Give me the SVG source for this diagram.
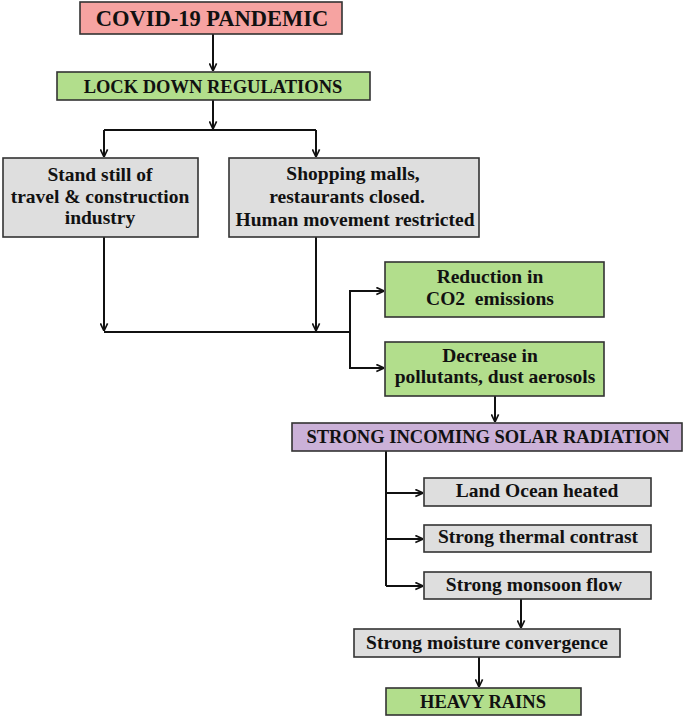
<svg xmlns="http://www.w3.org/2000/svg" width="685" height="719" viewBox="0 0 685 719">
<style>
.box{stroke:#333;stroke-width:1.6}
.pink{fill:#f6a3a1}
.green{fill:#b2de8c}
.gray{fill:#dedede}
.purple{fill:#cbb1d8}
text{font-family:"Liberation Serif","Times New Roman",serif;font-weight:bold;fill:#111;text-anchor:middle;white-space:pre}
.t{font-size:19.5px}
.c{font-size:18.5px}
.ln{fill:none;stroke:#111;stroke-width:2}
</style>
<defs>
<marker id="ah" viewBox="0 0 10 10" refX="9.5" refY="5" markerWidth="9" markerHeight="9" markerUnits="userSpaceOnUse" orient="auto">
<path d="M1,1 L9.5,5 L1,9" fill="none" stroke="#111" stroke-width="1.8"/>
</marker>
</defs>
<g id="connectors">
<path class="ln" d="M213,34 V71" marker-end="url(#ah)"/>
<path class="ln" d="M213,100 V129" marker-end="url(#ah)"/>
<path class="ln" d="M104,130 H316"/>
<path class="ln" d="M104,130 V157" marker-end="url(#ah)"/>
<path class="ln" d="M316,130 V157" marker-end="url(#ah)"/>
<path class="ln" d="M104,237 V331" marker-end="url(#ah)"/>
<path class="ln" d="M316,237 V331" marker-end="url(#ah)"/>
<path class="ln" d="M104,332 H350"/>
<path class="ln" d="M350,332 V291 H384" marker-end="url(#ah)"/>
<path class="ln" d="M350,332 V368 H384" marker-end="url(#ah)"/>
<path class="ln" d="M495,396 V422" marker-end="url(#ah)"/>
<path class="ln" d="M386,451 V586"/>
<path class="ln" d="M386,493 H423" marker-end="url(#ah)"/>
<path class="ln" d="M386,539 H423" marker-end="url(#ah)"/>
<path class="ln" d="M386,586 H423" marker-end="url(#ah)"/>
<path class="ln" d="M521,599 V628" marker-end="url(#ah)"/>
<path class="ln" d="M479,657 V687" marker-end="url(#ah)"/>
</g>
<g id="covid">
<rect class="box pink" x="80" y="2" width="262" height="32"/>
<text x="212" y="26" style="font-size:22.5px">COVID-19 PANDEMIC</text>
</g>
<g id="lockdown">
<rect class="box green" x="57" y="72" width="313" height="28"/>
<text class="c" x="213" y="93">LOCK DOWN REGULATIONS</text>
</g>
<g id="standstill">
<rect class="box gray" x="3" y="158" width="195" height="79"/>
<text class="t" x="100" y="181">Stand still of</text>
<text class="t" x="100" y="203">travel &amp; construction</text>
<text class="t" x="100" y="224">industry</text>
</g>
<g id="shopping">
<rect class="box gray" x="229" y="158" width="250" height="79"/>
<text class="t" x="353" y="180">Shopping malls,</text>
<text class="t" x="347" y="203">restaurants closed.</text>
<text class="t" x="355" y="226">Human movement restricted</text>
</g>
<g id="reduction">
<rect class="box green" x="385" y="262" width="219" height="55"/>
<text class="t" x="490" y="283">Reduction in</text>
<text class="t" x="490" y="305">CO2  emissions</text>
</g>
<g id="decrease">
<rect class="box green" x="385" y="342" width="219" height="54"/>
<text class="t" x="490" y="362">Decrease in</text>
<text class="t" x="495" y="383">pollutants, dust aerosols</text>
</g>
<g id="solar">
<rect class="box purple" x="292" y="423" width="390" height="28"/>
<text class="c" x="488" y="443">STRONG INCOMING SOLAR RADIATION</text>
</g>
<g id="landocean">
<rect class="box gray" x="424" y="478" width="227" height="28"/>
<text class="t" x="537" y="497">Land Ocean heated</text>
</g>
<g id="thermal">
<rect class="box gray" x="424" y="525" width="227" height="27"/>
<text class="t" x="538" y="543">Strong thermal contrast</text>
</g>
<g id="monsoon">
<rect class="box gray" x="424" y="572" width="227" height="27"/>
<text class="t" x="534" y="591">Strong monsoon flow</text>
</g>
<g id="moisture">
<rect class="box gray" x="354" y="629" width="266" height="28"/>
<text class="t" x="487" y="649">Strong moisture convergence</text>
</g>
<g id="heavyrains">
<rect class="box green" x="386" y="688" width="195" height="27"/>
<text class="c" x="483" y="708">HEAVY RAINS</text>
</g>
</svg>
